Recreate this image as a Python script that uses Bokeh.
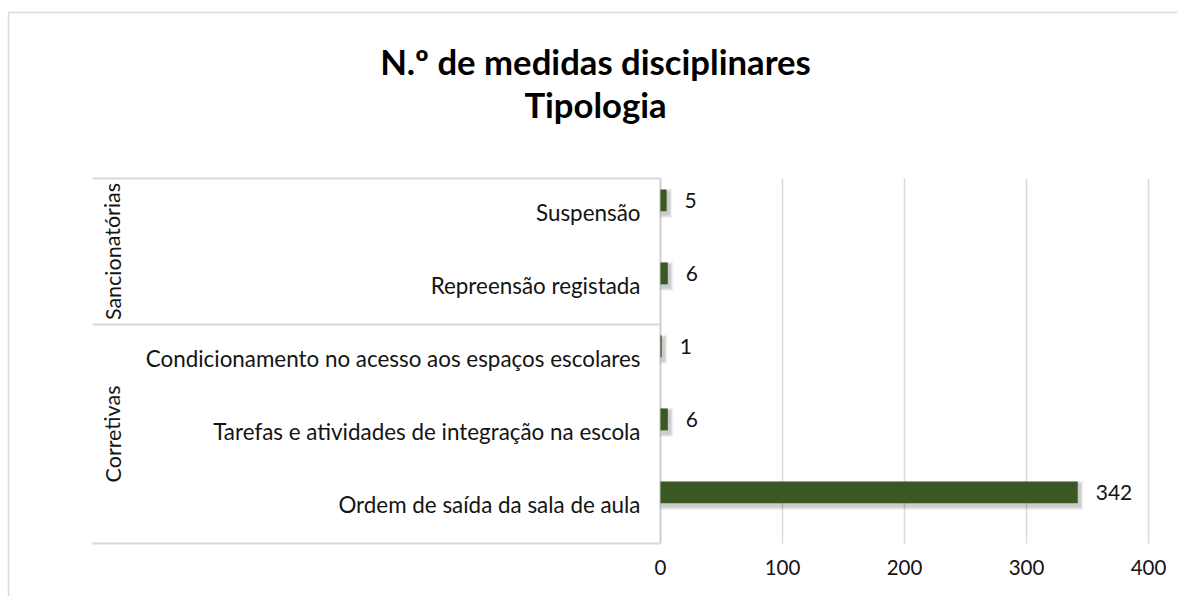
from bokeh.plotting import figure
from bokeh.models import Range1d, ColumnDataSource
from bokeh.embed import file_html
from bokeh.resources import INLINE
from bokeh.core.properties import value

# ---- data -------------------------------------------------------------
title_lines = ["N.º de medidas disciplinares", "Tipologia"]
categories = [
    "Suspensão",
    "Repreensão registada",
    "Condicionamento no acesso aos espaços escolares",
    "Tarefas e atividades de integração na escola",
    "Ordem de saída da sala de aula",
]
category_groups = ["Sancionatórias", "Sancionatórias",
                   "Corretivas", "Corretivas", "Corretivas"]
counts = [5, 6, 1, 6, 342]
x_ticks = [0, 100, 200, 300, 400]
x_tick_labels = ["0", "100", "200", "300", "400"]

# ---- layout (pixels on the page) -------------------------------------
W, H = 1177, 596
PLOT_L, PLOT_R = 660, 1148      # where 0 and the last tick land
PLOT_T, PLOT_B = 178, 543       # top / bottom of the category band
n = len(categories)
KX = (PLOT_R - PLOT_L) / x_ticks[-1]
KY = (PLOT_B - PLOT_T) / n

def dx(px):
    return (px - PLOT_L) / KX

def dy(py):
    return (PLOT_B - py) / KY

FONT = value("Lato")
TEXT = "#141414"
GRID = "#d9d9d9"
BAR = "#3a5724"

p = figure(width=W, height=H,
           x_range=Range1d(dx(0), dx(W)), y_range=Range1d(dy(H), dy(0)),
           x_axis_type=None, y_axis_type=None,
           toolbar_location=None, output_backend="svg",
           min_border=0, outline_line_color=None)
p.grid.visible = False
p.background_fill_color = "white"
p.border_fill_color = "white"

# chart-area border
p.segment(x0=[dx(8), dx(8)], y0=[dy(12), dy(12)],
          x1=[dx(W + 5), dx(8)], y1=[dy(12), dy(H + 5)],
          line_color=GRID, line_width=1.5)

# rows: first category on top
row_y = [n - 0.5 - i for i in range(n)]
bar_y = [y + 0.2 for y in row_y]
label_y = [y + 3.0 / KY for y in row_y]
BAR_H = 0.3

# vertical gridlines
grid_x = [t for t in x_ticks if t != 0]
p.segment(x0=grid_x, y0=[0] * len(grid_x), x1=grid_x, y1=[n] * len(grid_x),
          line_color=GRID, line_width=1.5)

# category-axis separators (top, between groups, bottom)
bounds = [n]
for i in range(1, n):
    if category_groups[i] != category_groups[i - 1]:
        bounds.append(n - i)
bounds.append(0)
p.segment(x0=[dx(92)] * len(bounds), y0=bounds,
          x1=[0] * len(bounds), y1=bounds,
          line_color=GRID, line_width=2)
# category axis line
p.segment(x0=[0], y0=[0], x1=[0], y1=[n], line_color="#cfcfcf", line_width=2)

# soft drop shadow under the bars
src = ColumnDataSource(dict(y=bar_y, right=counts, cat=categories,
                            lab=[str(c) for c in counts]))
for k, a in enumerate([0.09, 0.07, 0.05]):
    grow = (k + 1) * 1.2
    p.hbar(y=[y - 3.0 / KY for y in bar_y],
           left=[dx(PLOT_L + 2.5 - grow) for _ in counts],
           right=[c + (2.0 + grow) / KX for c in counts],
           height=BAR_H + 2 * grow / KY,
           fill_color="black", fill_alpha=a, line_color=None)

p.hbar(y="y", left=0, right="right", height=BAR_H, source=src,
       fill_color=BAR, line_color=None)

# value labels
p.text(x="right", y="y", text="lab", source=src, x_offset=18,
       text_align="left", text_baseline="middle",
       text_font=FONT, text_font_size="21px", text_color=TEXT)

# category labels
p.text(x=[dx(640)] * n, y=label_y, text=categories,
       text_align="right", text_baseline="middle",
       text_font=FONT, text_font_size="22.4px", text_color=TEXT)

# group labels, rotated
group_names, group_mid = [], []
for g in dict.fromkeys(category_groups):
    idx = [i for i, c in enumerate(category_groups) if c == g]
    group_names.append(g)
    group_mid.append(sum(row_y[i] for i in idx) / len(idx))
p.text(x=[dx(112)] * len(group_names), y=group_mid, text=group_names,
       angle=1.5708, text_align="center", text_baseline="middle",
       text_font=FONT, text_font_size="21.5px", text_color=TEXT)

# value-axis tick labels
p.text(x=x_ticks, y=[dy(567)] * len(x_ticks), text=x_tick_labels,
       text_align="center", text_baseline="middle",
       text_font=FONT, text_font_size="20.5px", text_color=TEXT)

# title
p.text(x=[dx(595)] * 2, y=[dy(61), dy(104)], text=title_lines,
       text_align="center", text_baseline="middle",
       text_font=FONT, text_font_size="34.7px", text_font_style="bold",
       text_color="black")

open("out.html", "w").write(file_html(p, INLINE))
